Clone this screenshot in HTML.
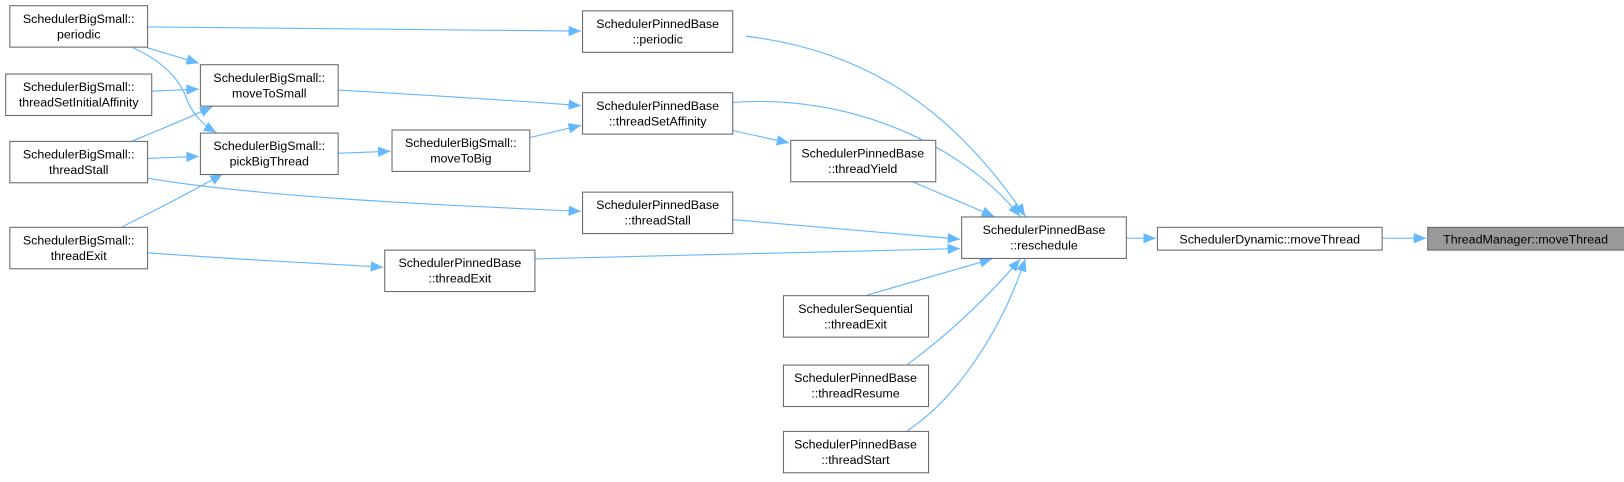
<!DOCTYPE html>
<html><head><meta charset="utf-8"><style>
html,body{margin:0;padding:0;background:#fff;}
svg text{font-family:"Liberation Sans",Arial,sans-serif;font-size:12px;fill:#000;text-anchor:middle;}
</style></head><body>
<svg width="1624" height="477" viewBox="0 0 1624 477" xmlns="http://www.w3.org/2000/svg">
<defs>
<marker id="a" markerWidth="13" markerHeight="10" refX="12" refY="5" orient="auto" markerUnits="userSpaceOnUse">
<path d="M0,0 L12,5 L0,10 Z" fill="#63b8ff"/>
</marker>
</defs>
<g transform="scale(1.0357)">
<g fill="none" stroke="#63b8ff" stroke-width="1.1" marker-end="url(#a)">
<path d="M142,26 C300,28 450,29 561,30"/>
<path d="M142,46 L192,61"/>
<path d="M128,46 C160,60 175,80 180,95 C186,110 195,120 209,128"/>
<path d="M146,88 L192,86"/>
<path d="M128,136 C150,127 180,115 205,103"/>
<path d="M142,153 L192,151"/>
<path d="M142,172 C250,190 420,198 561,204"/>
<path d="M118,219 C150,203 185,185 215,168"/>
<path d="M142,244 C220,250 300,254 370,258"/>
<path d="M326,87 C400,91 480,96 561,102"/>
<path d="M326,148 L377,146"/>
<path d="M511,133 L561,121"/>
<path d="M707,126 L762,138"/>
<path d="M720,35 C850,50 930,120 990,209"/>
<path d="M707,99 C820,90 930,140 985,209"/>
<path d="M880,175 L960,209"/>
<path d="M707,212 L927,231"/>
<path d="M516,250 L927,240"/>
<path d="M837,285 L958,250"/>
<path d="M876,352 C920,320 960,280 985,250"/>
<path d="M876,416 C930,380 970,310 990,250"/>
<path d="M1087,230 L1116,230"/>
<path d="M1334,230 L1377,230"/>
</g>
<g fill="#fff" stroke="#666" stroke-width="1">
<rect x="9.5" y="5.5" width="133" height="40"/>
<rect x="5.5" y="71.5" width="141" height="40"/>
<rect x="9.5" y="136.5" width="133" height="40"/>
<rect x="9.5" y="219.5" width="133" height="40"/>
<rect x="193.5" y="62.5" width="133" height="40"/>
<rect x="193.5" y="128.5" width="133" height="40"/>
<rect x="378.5" y="125.5" width="133" height="40"/>
<rect x="562.5" y="10.5" width="145" height="40"/>
<rect x="562.5" y="89.5" width="145" height="40"/>
<rect x="763.5" y="135.5" width="140" height="40"/>
<rect x="562.5" y="185.5" width="145" height="40"/>
<rect x="371.5" y="241.5" width="145" height="40"/>
<rect x="928.5" y="209.5" width="159" height="40"/>
<rect x="1117.5" y="219.5" width="217" height="22"/>
<rect x="1378.5" y="219.5" width="190" height="22" fill="#999"/>
<rect x="756.5" y="285.5" width="140" height="40"/>
<rect x="756.5" y="352.5" width="140" height="40"/>
<rect x="756.5" y="416.5" width="140" height="40"/>
</g>
<text x="76" y="22">SchedulerBigSmall::</text><text x="76" y="37">periodic</text>
<text x="76" y="88">SchedulerBigSmall::</text><text x="76" y="103">threadSetInitialAffinity</text>
<text x="76" y="153">SchedulerBigSmall::</text><text x="76" y="168">threadStall</text>
<text x="76" y="236">SchedulerBigSmall::</text><text x="76" y="251">threadExit</text>
<text x="260" y="79">SchedulerBigSmall::</text><text x="260" y="94">moveToSmall</text>
<text x="260" y="145">SchedulerBigSmall::</text><text x="260" y="160">pickBigThread</text>
<text x="445" y="142">SchedulerBigSmall::</text><text x="445" y="157">moveToBig</text>
<text x="635" y="27">SchedulerPinnedBase</text><text x="635" y="42">::periodic</text>
<text x="635" y="106">SchedulerPinnedBase</text><text x="635" y="121">::threadSetAffinity</text>
<text x="833" y="152">SchedulerPinnedBase</text><text x="833" y="167">::threadYield</text>
<text x="635" y="202">SchedulerPinnedBase</text><text x="635" y="217">::threadStall</text>
<text x="444" y="258">SchedulerPinnedBase</text><text x="444" y="273">::threadExit</text>
<text x="1008" y="226">SchedulerPinnedBase</text><text x="1008" y="241">::reschedule</text>
<text x="1226" y="235">SchedulerDynamic::moveThread</text>
<text x="1473" y="235">ThreadManager::moveThread</text>
<text x="826" y="302">SchedulerSequential</text><text x="826" y="317">::threadExit</text>
<text x="826" y="369">SchedulerPinnedBase</text><text x="826" y="384">::threadResume</text>
<text x="826" y="433">SchedulerPinnedBase</text><text x="826" y="448">::threadStart</text>
</g>
</svg>
</body></html>
